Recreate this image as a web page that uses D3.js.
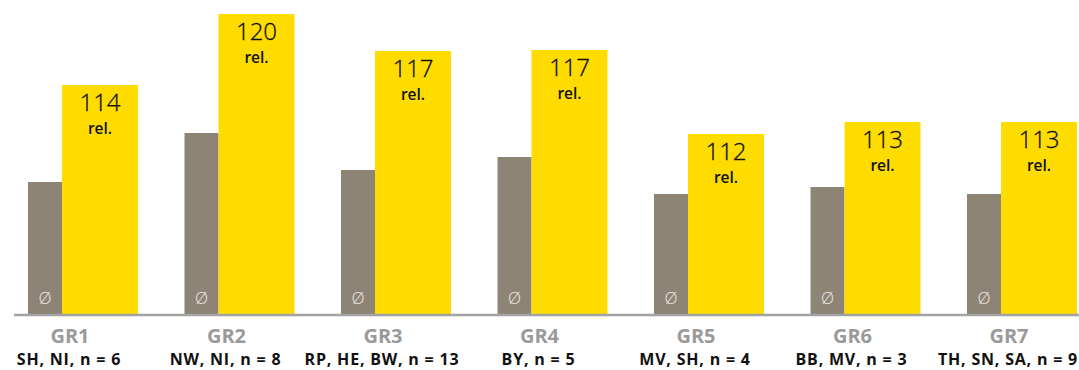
<!DOCTYPE html>
<meta charset="utf-8">
<html>
  <head>
    <style>
      body { margin: 0; background: #fff; }
      text { font-family: "Open Sans", "DejaVu Sans", sans-serif; }
    </style>
  </head>
  <body>
    <div id="chart"></div>
  </body>
<script src="https://d3js.org/d3.v7.min.js"></script>
<script>
// groups and their sub labels
var groups = ["GR1", "GR2", "GR3", "GR4", "GR5", "GR6", "GR7"]
var regions = ["SH, NI, n = 6", "NW, NI, n = 8", "RP, HE, BW, n = 13", "BY, n = 5",
               "MV, SH, n = 4", "BB, MV, n = 3", "TH, SN, SA, n = 9"]
// average (grey) and group (yellow) values
var avgValues = [132, 181, 144, 157, 120, 127, 120]
var grpValues = [229, 300, 263, 264, 180, 192, 192]
// relative index printed on the yellow bars
var relLabels = ["114", "120", "117", "117", "112", "113", "113"]

var W = 1079, H = 370
var base = 314

var svg = d3.select("#chart").append("svg")
  .attr("width", W).attr("height", H)

var x = d3.scaleBand()
  .domain(groups)
  .range([28, 28 + 156.5 * 7])

var y = d3.scaleLinear()
  .domain([0, 300])
  .range([base, 14])

var greyW = 34, yelW = 76

var data = groups.map(function(g, i) {
  return {g: g, reg: regions[i], avg: avgValues[i], grp: grpValues[i], rel: relLabels[i]}
})

var gs = svg.selectAll(".grp")
  .data(data)
  .enter().append("g")
    .attr("transform", function(d) { return "translate(" + x(d.g) + ",0)" })

// grey average bars
gs.append("rect")
  .attr("x", 0)
  .attr("y", function(d) { return y(d.avg) })
  .attr("width", greyW)
  .attr("height", function(d) { return base - y(d.avg) })
  .style("fill", "#8d8476")

// yellow bars
gs.append("rect")
  .attr("x", greyW)
  .attr("y", function(d) { return y(d.grp) })
  .attr("width", yelW)
  .attr("height", function(d) { return base - y(d.grp) })
  .style("fill", "#ffdc00")

// Ø symbol
gs.append("text")
  .attr("x", greyW / 2)
  .attr("y", 304)
  .attr("text-anchor", "middle")
  .style("font-size", "17px")
  .style("font-weight", 300)
  .style("fill", "#ece9e4")
  .text("Ø")

// value labels
gs.append("text")
  .attr("x", greyW + yelW / 2)
  .attr("y", function(d) { return y(d.grp) + 26 })
  .attr("text-anchor", "middle")
  .style("font-size", "24px")
  .style("font-weight", 300)
  .style("fill", "#111")
  .style("stroke", "#111")
  .style("stroke-width", 0.3)
  .text(function(d) { return d.rel })

gs.append("text")
  .attr("x", greyW + yelW / 2)
  .attr("y", function(d) { return y(d.grp) + 49 })
  .attr("text-anchor", "middle")
  .style("font-size", "15.5px")
  .style("font-weight", 600)
  .style("fill", "#111")
  .text("rel.")

// axis line
svg.append("line")
  .attr("x1", 14).attr("x2", W)
  .attr("y1", base + 1).attr("y2", base + 1)
  .style("stroke", "#a3a3a3")
  .style("stroke-width", 2.5)

// group labels
gs.append("text")
  .attr("x", 42)
  .attr("y", 343)
  .attr("text-anchor", "middle")
  .style("font-size", "20px")
  .style("font-weight", 700)
  .style("fill", "#9a9a9a")
  .text(function(d) { return d.g })

gs.append("text")
  .attr("x", 41)
  .attr("y", 365)
  .attr("text-anchor", "middle")
  .style("font-size", "16px")
  .style("font-weight", 700)
  .style("letter-spacing", "0.8px")
  .style("fill", "#111")
  .text(function(d) { return d.reg })
</script>
</html>
